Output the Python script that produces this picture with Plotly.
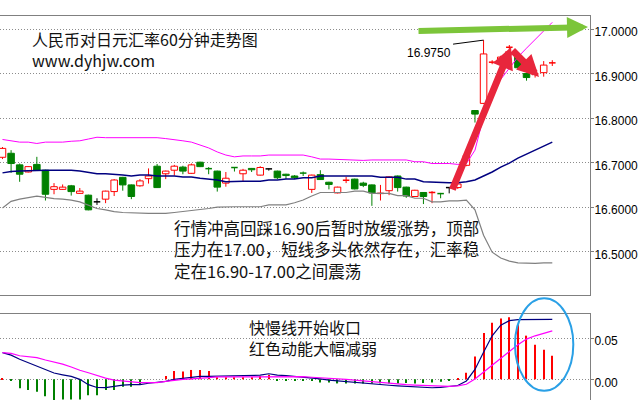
import plotly.graph_objects as go

# ---------------- data ----------------
open_ = [16.712, 16.721, 16.695, 16.679, 16.696, 16.683, 16.640, 16.640, 16.648, 16.631,
         16.627, 16.612, 16.618, 16.635, 16.667, 16.650, 16.648, 16.664, 16.692, 16.675,
         16.683, 16.690, 16.676, 16.701, 16.687, 16.681, 16.654, 16.690, 16.675, 16.687,
         16.672, 16.686, 16.681, 16.674, 16.670, 16.677, 16.640, 16.673, 16.656, 16.632,
         16.660, 16.663, 16.654, 16.650, 16.630, 16.637, 16.670, 16.645, 16.624, 16.633,
         16.632, 16.631, 16.644, 16.644, 16.694, 16.817, 16.833, 16.925, 16.932, 16.958,
         16.938, 16.900, 16.899, 16.902, 16.923]
high_ = [16.735, 16.728, 16.698, 16.692, 16.713, 16.684, 16.654, 16.651, 16.650, 16.643,
         16.628, 16.620, 16.637, 16.663, 16.668, 16.651, 16.663, 16.687, 16.697, 16.682,
         16.695, 16.693, 16.698, 16.702, 16.690, 16.682, 16.679, 16.690, 16.686, 16.688,
         16.692, 16.687, 16.682, 16.675, 16.672, 16.680, 16.673, 16.683, 16.657, 16.646,
         16.668, 16.664, 16.657, 16.651, 16.650, 16.669, 16.671, 16.646, 16.639, 16.634,
         16.636, 16.632, 16.644, 16.655, 16.720, 16.818, 16.975, 16.930, 16.940, 16.964,
         16.945, 16.902, 16.902, 16.928, 16.930]
low_ = [16.708, 16.677, 16.657, 16.678, 16.682, 16.615, 16.629, 16.639, 16.626, 16.630,
        16.593, 16.605, 16.609, 16.625, 16.637, 16.618, 16.646, 16.653, 16.643, 16.663,
        16.671, 16.674, 16.675, 16.690, 16.674, 16.635, 16.646, 16.680, 16.659, 16.679,
        16.671, 16.682, 16.663, 16.663, 16.663, 16.670, 16.632, 16.661, 16.640, 16.631,
        16.654, 16.640, 16.645, 16.603, 16.615, 16.627, 16.635, 16.621, 16.623, 16.607,
        16.609, 16.620, 16.631, 16.641, 16.692, 16.790, 16.832, 16.921, 16.930, 16.949,
        16.910, 16.884, 16.891, 16.893, 16.917]
close_ = [16.732, 16.698, 16.674, 16.691, 16.683, 16.629, 16.646, 16.645, 16.635, 16.636,
          16.594, 16.612, 16.636, 16.661, 16.650, 16.624, 16.659, 16.670, 16.644, 16.681,
          16.692, 16.681, 16.695, 16.691, 16.686, 16.645, 16.665, 16.688, 16.683, 16.684,
          16.689, 16.686, 16.666, 16.671, 16.666, 16.676, 16.672, 16.662, 16.651, 16.645,
          16.661, 16.641, 16.649, 16.632, 16.632, 16.668, 16.644, 16.625, 16.638, 16.624,
          16.634, 16.630, 16.644, 16.652, 16.716, 16.809, 16.944, 16.926, 16.937, 16.960,
          16.913, 16.891, 16.900, 16.919, 16.925]

bb_upper = [16.752, 16.749, 16.746, 16.746, 16.743, 16.746, 16.746, 16.746, 16.748, 16.749,
            16.753, 16.757, 16.756, 16.756, 16.756, 16.756, 16.756, 16.756, 16.756, 16.754,
            16.752, 16.749, 16.746, 16.740, 16.733, 16.724, 16.717, 16.713, 16.715, 16.715,
            16.715, 16.717, 16.717, 16.717, 16.717, 16.717, 16.713, 16.708, 16.708, 16.707,
            16.707, 16.705, 16.705, 16.706, 16.706, 16.706, 16.706, 16.706, 16.702, 16.702,
            16.698, 16.698, 16.698, 16.696, 16.698, 16.728, 16.803, 16.859, 16.887, 16.912,
            16.937, 16.957, 16.977, 16.996, 17.015]
bb_mid = [16.677, 16.680, 16.681, 16.682, 16.683, 16.683, 16.683, 16.683, 16.683, 16.681,
          16.678, 16.675, 16.675, 16.674, 16.672, 16.670, 16.672, 16.672, 16.670, 16.670,
          16.670, 16.668, 16.668, 16.665, 16.663, 16.661, 16.657, 16.658, 16.658, 16.658,
          16.658, 16.661, 16.661, 16.663, 16.663, 16.666, 16.666, 16.670, 16.670, 16.670,
          16.670, 16.670, 16.670, 16.670, 16.667, 16.667, 16.667, 16.663, 16.663, 16.657,
          16.656, 16.656, 16.655, 16.655, 16.657, 16.661, 16.670, 16.679, 16.690, 16.699,
          16.710, 16.719, 16.728, 16.737, 16.746]
bb_lower = [16.598, 16.613, 16.618, 16.621, 16.625, 16.622, 16.619, 16.618, 16.616, 16.612,
            16.605, 16.597, 16.594, 16.590, 16.588, 16.587, 16.586, 16.586, 16.586, 16.586,
            16.588, 16.590, 16.592, 16.594, 16.597, 16.600, 16.601, 16.601, 16.601, 16.601,
            16.601, 16.605, 16.605, 16.605, 16.610, 16.616, 16.625, 16.633, 16.633, 16.633,
            16.633, 16.636, 16.636, 16.631, 16.631, 16.631, 16.626, 16.626, 16.620, 16.620,
            16.612, 16.612, 16.614, 16.614, 16.616, 16.594, 16.537, 16.499, 16.486, 16.479,
            16.475, 16.474, 16.474, 16.475, 16.475]

macd_line = [0.0325, 0.0295, 0.0245, 0.0205, 0.0160, 0.0118, 0.0077, 0.0055, 0.0035, 0.0000,
             -0.0065, -0.0100, -0.0102, -0.0085, -0.0070, -0.0065, -0.0065, -0.0048, -0.0041, -0.0025,
             0.0000, 0.0010, 0.0025, 0.0037, 0.0037, 0.0040, 0.0042, 0.0045, 0.0047, 0.0050,
             0.0050, 0.0068, 0.0050, 0.0045, 0.0037, 0.0030, 0.0021, 0.0005, -0.0010, -0.0020,
             -0.0030, -0.0038, -0.0045, -0.0055, -0.0065, -0.0072, -0.0080, -0.0085, -0.0090, -0.0095,
             -0.0103, -0.0098, -0.0090, -0.0075, -0.0020, 0.0120, 0.0330, 0.0530, 0.0660, 0.0715,
             0.0728, 0.0730, 0.0730, 0.0730, 0.0730]
signal_line = [0.0325, 0.0315, 0.0287, 0.0280, 0.0265, 0.0235, 0.0213, 0.0185, 0.0150, 0.0110,
               0.0080, 0.0045, 0.0015, -0.0010, -0.0020, -0.0032, -0.0041, -0.0041, -0.0041, -0.0025,
               -0.0010, 0.0000, 0.0005, 0.0008, 0.0020, 0.0029, 0.0029, 0.0029, 0.0030, 0.0032,
               0.0035, 0.0037, 0.0037, 0.0037, 0.0037, 0.0032, 0.0025, 0.0020, 0.0015, 0.0010,
               0.0000, -0.0010, -0.0020, -0.0030, -0.0040, -0.0050, -0.0060, -0.0065, -0.0070, -0.0075,
               -0.0080, -0.0085, -0.0085, -0.0080, -0.0060, 0.0005, 0.0090, 0.0180, 0.0260, 0.0340,
               0.0420, 0.0490, 0.0530, 0.0560, 0.0590]
hist = [0.0012, -0.0017, -0.0110, -0.0131, -0.0152, -0.0205, -0.0254, -0.0246, -0.0246, -0.0246,
        -0.0193, -0.0193, -0.0131, -0.0131, -0.0090, -0.0090, -0.0058, 0.0, 0.0, 0.0041,
        0.0102, 0.0094, 0.0114, 0.0114, 0.0102, 0.0025, 0.0025, 0.0025, 0.0025, 0.0025,
        0.0041, 0.0053, -0.0017, -0.0017, -0.0017, -0.0017, -0.0017, -0.0040, -0.0040, -0.0050,
        -0.0050, -0.0050, -0.0050, -0.0050, -0.0050, -0.0050, -0.0050, -0.0045, -0.0050, -0.0045,
        -0.0040, -0.0030, -0.0020, 0.0012, 0.0081, 0.0278, 0.0565, 0.0688, 0.0741, 0.0757,
        0.0667, 0.0532, 0.0421, 0.0360, 0.0286]

price_ticks = [16.5, 16.6, 16.7, 16.8, 16.9, 17.0]
macd_ticks = [0.0, 0.05]

title_lines = ["人民币对日元汇率60分钟走势图", "www.dyhjw.com"]
comment_lines = ["行情冲高回踩16.90后暂时放缓涨势，顶部",
                 "压力在17.00，短线多头依然存在，汇率稳",
                 "定在16.90-17.00之间震荡"]
macd_lines_text = ["快慢线开始收口", "红色动能大幅减弱"]

# ---------------- styling ----------------
RED = "#ff0000"
GREEN = "#008000"
BLACK = "#000000"
GRID = "#8c8c8c"
AXIS = "#808080"
CJK = "Noto Sans CJK SC"
LAT = "Liberation Sans"

n = len(open_)
idx = list(range(n))
BODY_W = 0.76

fig = go.Figure()

bull = {"x": [], "base": [], "h": []}
bear = {"x": [], "base": [], "h": []}
wicks = {RED: ([], []), GREEN: ([], []), BLACK: ([], [])}
ticks = {RED: ([], []), GREEN: ([], []), BLACK: ([], [])}

for i in idx:
    o, h, l, c = open_[i], high_[i], low_[i], close_[i]
    d = c - o
    col = RED if d > 0 else (GREEN if d < 0 else BLACK)
    if abs(d) < 0.0025:
        wx, wy = wicks[col]
        wx += [i, i, None]
        wy += [l, h, None]
        tx, ty = ticks[col]
        tx += [i - BODY_W / 2, i + BODY_W / 2, None]
        ty += [(o + c) / 2, (o + c) / 2, None]
    else:
        top, bot = max(o, c), min(o, c)
        tgt = bull if d > 0 else bear
        tgt["x"].append(i)
        tgt["base"].append(bot)
        tgt["h"].append(top - bot)
        wx, wy = wicks[col]
        if h > top:
            wx += [i, i, None]
            wy += [top, h, None]
        if l < bot:
            wx += [i, i, None]
            wy += [l, bot, None]

fig.add_trace(go.Bar(x=bull["x"], y=bull["h"], base=bull["base"], width=BODY_W,
                     marker=dict(color="white", line=dict(color=RED, width=1)),
                     xaxis="x", yaxis="y", hoverinfo="skip"))
fig.add_trace(go.Bar(x=bear["x"], y=bear["h"], base=bear["base"], width=BODY_W,
                     marker=dict(color=GREEN, line=dict(color=GREEN, width=1)),
                     xaxis="x", yaxis="y", hoverinfo="skip"))
for col in (RED, GREEN, BLACK):
    wx, wy = wicks[col]
    fig.add_trace(go.Scatter(x=wx, y=wy, mode="lines", line=dict(color=col, width=1),
                             xaxis="x", yaxis="y", hoverinfo="skip"))
    tx, ty = ticks[col]
    fig.add_trace(go.Scatter(x=tx, y=ty, mode="lines", line=dict(color=col, width=1.5),
                             xaxis="x", yaxis="y", hoverinfo="skip"))

fig.add_trace(go.Scatter(x=idx, y=bb_upper, mode="lines", line=dict(color="#ff00ff", width=1),
                         xaxis="x", yaxis="y", hoverinfo="skip"))
fig.add_trace(go.Scatter(x=idx, y=bb_mid, mode="lines", line=dict(color="#000080", width=1.5),
                         xaxis="x", yaxis="y", hoverinfo="skip"))
fig.add_trace(go.Scatter(x=idx, y=bb_lower, mode="lines", line=dict(color="#808080", width=1.2),
                         xaxis="x", yaxis="y", hoverinfo="skip"))

# MACD panel
fig.add_trace(go.Bar(x=idx, y=hist, width=0.13,
                     marker=dict(color=[RED if v > 0 else GREEN for v in hist], line=dict(width=0)),
                     xaxis="x2", yaxis="y2", hoverinfo="skip"))
fig.add_trace(go.Scatter(x=idx, y=macd_line, mode="lines", line=dict(color="#000080", width=1.2),
                         xaxis="x2", yaxis="y2", hoverinfo="skip"))
fig.add_trace(go.Scatter(x=idx, y=signal_line, mode="lines", line=dict(color="#ff00ff", width=1.2),
                         xaxis="x2", yaxis="y2", hoverinfo="skip"))

xr = [-0.29, 68.39]
fig.update_layout(
    width=640, height=400,
    margin=dict(l=0, r=50, t=16, b=0),
    paper_bgcolor="white", plot_bgcolor="white",
    showlegend=False, barmode="overlay",
    xaxis=dict(domain=[0, 1], range=xr, showticklabels=False, showgrid=False, zeroline=False,
               showline=True, mirror=True, linecolor=AXIS, linewidth=1, ticks="", anchor="y"),
    yaxis=dict(domain=[0.2734, 1], range=[16.4028, 17.0292], side="right", anchor="x",
               tickvals=price_ticks, ticktext=[f"{v:.4f}" for v in price_ticks],
               showgrid=True, gridcolor=GRID, griddash="1px,2px", gridwidth=1, zeroline=False,
               showline=True, linecolor=AXIS, linewidth=1, ticks="outside", ticklen=3,
               tickcolor=AXIS, ticklabelshift=3, ticklabelstandoff=-2,
               tickfont=dict(family=LAT, size=12, color=BLACK)),
    xaxis2=dict(domain=[0, 1], range=xr, showticklabels=False, showgrid=False, zeroline=False,
                showline=True, side="top", linecolor=AXIS, linewidth=1, ticks="", anchor="y2"),
    yaxis2=dict(domain=[0, 0.224], range=[-0.0252, 0.0796], side="right", anchor="x2",
                tickvals=macd_ticks, ticktext=[f"{v:.2f}" for v in macd_ticks],
                showgrid=True, gridcolor=GRID, griddash="1px,2px", gridwidth=1, zeroline=False,
                showline=True, linecolor=AXIS, linewidth=1, ticks="outside", ticklen=3,
                tickcolor=AXIS, ticklabelshift=3, ticklabelstandoff=-2,
                tickfont=dict(family=LAT, size=12, color=BLACK)),
)

ann = []
def txt(lines, x, y, size=16):
    ann.append(dict(text="<br>".join(lines), x=x, y=y, xref="paper", yref="paper",
                    xanchor="left", yanchor="middle", align="left", showarrow=False,
                    font=dict(family=CJK, size=size, color="#111111")))

txt(title_lines, 0.0508, 0.9115)
txt(comment_lines, 0.2915, 0.3919, size=16.5)
txt(macd_lines_text, 0.4186, 0.1615)

# high marker label
ann.append(dict(text=f"{high_[56]:.4f}", x=52.4, y=16.946, xref="x", yref="y",
                xanchor="right", yanchor="middle", showarrow=False,
                font=dict(family=LAT, size=12, color=BLACK)))

# arrows
def arrow(x, y, ax, ay, color, width, size):
    ann.append(dict(text="", x=x, y=y, ax=ax, ay=ay, xref="x", yref="y", axref="x", ayref="y",
                    showarrow=True, arrowhead=2, arrowsize=size, arrowwidth=width,
                    arrowcolor=color, standoff=0, startstandoff=0))

arrow(68.16, 17.0045, 48.25, 16.9955, "#7cc53a", 6, 0.7)
arrow(59.2, 16.9596, 52.3, 16.6363, "#e8263c", 7, 0.62)
arrow(62.46, 16.892, 59.2, 16.955, "#e8263c", 7, 0.62)

fig.update_layout(annotations=ann)

fig.add_shape(type="line", xref="x", yref="y", x0=52.45, y0=16.966, x1=56, y1=16.975,
              line=dict(color=BLACK, width=1))
fig.add_shape(type="circle", xref="paper", yref="paper", x0=0.8729, x1=0.9717,
              y0=0.0242, y1=0.2648, line=dict(color="#2aa0e6", width=2))

fig.write_html("out.html", config={"displayModeBar": False},
               post_script="document.body.style.margin='0';")
